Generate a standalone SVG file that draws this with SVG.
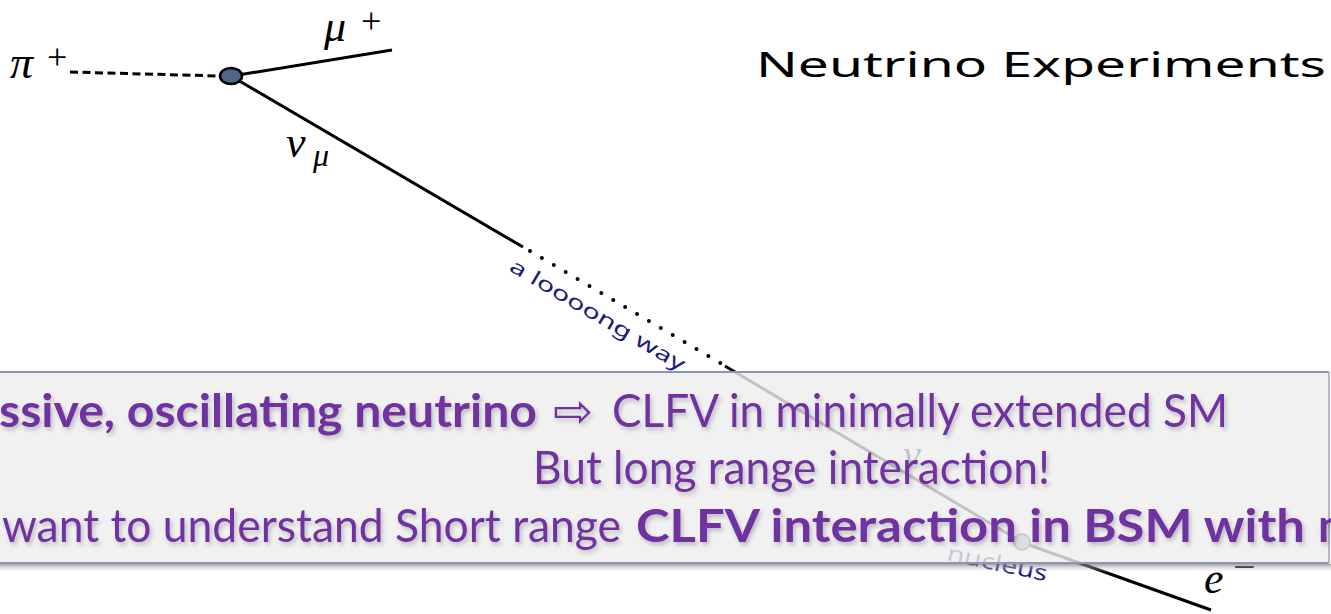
<svg xmlns="http://www.w3.org/2000/svg" width="1331" height="614" viewBox="0 0 1331 614">
  <defs>
    <style>
      .ln { stroke: #000; stroke-width: 3; fill: none; }
      .dots { stroke: #000; stroke-width: 4; fill: none; stroke-linecap: round; stroke-dasharray: 0 13.8; }
      .math { font-family: "Liberation Serif", "DejaVu Serif", serif; font-style: italic; fill: #000; }
      .up { font-family: "Liberation Serif", "DejaVu Serif", serif; fill: #000; }
      .hand { font-family: "Noto Sans", "DejaVu Sans", sans-serif; fill: #1a1a80; }
      .box { font-family: "Lato", "Noto Sans", "DejaVu Sans", sans-serif; font-size: 46px; fill: #7030a0; }
      .b { font-weight: bold; }
    </style>
    <filter id="tsh" x="-5%" y="-30%" width="110%" height="160%">
      <feDropShadow dx="2" dy="3" stdDeviation="2" flood-color="#000" flood-opacity="0.22"/>
    </filter>
    <linearGradient id="shadow" x1="0" y1="0" x2="0" y2="1">
      <stop offset="0" stop-color="#7a7a7a" stop-opacity="0.7"/>
      <stop offset="1" stop-color="#ffffff" stop-opacity="0"/>
    </linearGradient>
  </defs>
  <rect width="1331" height="614" fill="#fff"/>

  <g id="connectors">
    <line class="ln" x1="70" y1="72" x2="220" y2="76" stroke-dasharray="8 4.5"/>
    <line class="ln" x1="238" y1="75" x2="392" y2="50"/>
    <line class="ln" x1="236" y1="79" x2="523" y2="247"/>
    <line class="dots" x1="530" y1="251" x2="722" y2="364"/>
    <line class="ln" x1="725" y1="366" x2="1015" y2="538"/>
    <line class="ln" x1="1029" y1="545" x2="1211" y2="610"/>
  </g>

  <g id="vertex">
    <ellipse cx="231" cy="76" rx="11" ry="8" fill="#4f6689" stroke="#000" stroke-width="2.5"/>
  </g>
  <g id="nucleus">
    <circle cx="1022" cy="542" r="8" fill="#8a93a8" stroke="#333" stroke-width="2"/>
    <text class="hand" x="946" y="560" font-size="22" transform="rotate(12 946 560)" textLength="102" lengthAdjust="spacingAndGlyphs">nucleus</text>
  </g>

  <g id="labels">
    <text class="math" x="10" y="78" font-size="46">π</text>
    <text class="up" x="47" y="69" font-size="36">+</text>
    <text class="math" x="324" y="41" font-size="44">μ</text>
    <text class="up" x="361" y="33" font-size="36">+</text>
    <text class="math" x="286" y="157" font-size="44">ν</text>
    <text class="math" x="313" y="166" font-size="32">μ</text>
    <text class="math" x="903" y="468" font-size="40">ν</text>
    <text class="math" x="1204" y="593" font-size="44">e</text>
    <text class="up" x="1233" y="580" font-size="40">−</text>
    <text class="hand" x="508" y="270" font-size="20" transform="rotate(30.5 508 270)" textLength="200" lengthAdjust="spacingAndGlyphs">a loooong way</text>
    <text x="756" y="77" font-family="'Noto Sans', 'DejaVu Sans', sans-serif" font-size="34" fill="#000" textLength="570" lengthAdjust="spacingAndGlyphs">Neutrino Experiments</text>
  </g>

  <g id="callout">
    <rect x="0" y="564" width="1331" height="9" fill="url(#shadow)"/>
    <rect x="-2" y="372" width="1331" height="192" fill="#eeeeee" fill-opacity="0.82"/>
    <line x1="0" y1="372" x2="1329" y2="372" stroke="#8d96ba" stroke-width="2"/>
    <line x1="0" y1="563" x2="1329" y2="563" stroke="#8d96ba" stroke-width="2"/>
    <line x1="1329" y1="372" x2="1329" y2="564" stroke="#b0b6cc" stroke-width="2"/>
    <g filter="url(#tsh)">
      <text class="box b" x="-1" y="427" textLength="538" lengthAdjust="spacingAndGlyphs">ssive, oscillating neutrino</text>
      <text class="box" x="553" y="427" font-family="'DejaVu Sans', sans-serif" font-size="40" textLength="40" lengthAdjust="spacingAndGlyphs">⇨</text>
      <text class="box" x="612" y="427" textLength="616" lengthAdjust="spacingAndGlyphs">CLFV in minimally extended SM</text>
      <text class="box" x="533" y="484" textLength="517" lengthAdjust="spacingAndGlyphs">But long range interaction!</text>
      <text class="box" x="2" y="542" textLength="619" lengthAdjust="spacingAndGlyphs">want to understand Short range</text>
      <text class="box b" x="636" y="542" textLength="669" lengthAdjust="spacingAndGlyphs">CLFV interaction in BSM with</text>
      <text class="box b" x="1318" y="542">m</text>
    </g>
  </g>
</svg>
